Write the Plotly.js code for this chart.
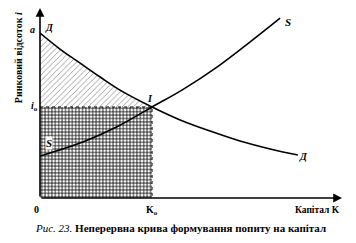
<!DOCTYPE html>
<html><head><meta charset="utf-8">
<script src="https://cdn.plot.ly/plotly-3.0.1.min.js"></script>
<style>html,body{margin:0;padding:0;background:#fff}#c{width:356px;height:243px}</style>
</head><body><div id="c"></div>
<script>
// Demand curve Д
const demandK = [0, 0.66, 1.32, 1.99, 2.65, 3.71, 4.64, 5.73, 6.62, 7.62, 8.54];
const demandI = [8.68, 7.84, 7.11, 6.37, 5.68, 4.79, 4.11, 3.47, 3.00, 2.58, 2.26];
// Supply curve S
const supplyK = [0, 1.42, 2.55, 3.71, 4.74, 5.86, 6.95, 7.95];
const supplyI = [2.21, 2.95, 3.75, 4.79, 5.72, 6.89, 8.21, 9.47];
// Equilibrium
const K0 = 3.71;
const i0 = 4.79;
const axisMax = 10;

const F = 'Liberation Serif, Times New Roman, serif';

// Triangle region (between demand and i0, from 0 to K0)
const triX = [], triY = [];
for (let j = 0; j < demandK.length; j++) {
  if (demandK[j] <= K0) { triX.push(demandK[j]); triY.push(demandI[j]); }
}
triX.push(0); triY.push(i0);

const traces = [
  { x: [0, K0, K0, 0, 0], y: [0, 0, i0, i0, 0], type: 'scatter', mode: 'none', fill: 'toself',
    fillcolor: 'white',
    fillpattern: { shape: '+', size: 3.4, solidity: 0.4, fgcolor: '#000', bgcolor: '#fff' },
    hoverinfo: 'skip' },
  { x: triX, y: triY, type: 'scatter', mode: 'none', fill: 'toself', fillcolor: 'white',
    fillpattern: { shape: '/', size: 4, solidity: 0.15, fgcolor: '#666', bgcolor: '#fff' },
    hoverinfo: 'skip' },
  { x: [0, K0, K0], y: [i0, i0, 0], type: 'scatter', mode: 'lines',
    line: { color: '#000', width: 1, dash: 'dot' }, hoverinfo: 'skip' },
  { x: demandK, y: demandI, type: 'scatter', mode: 'lines',
    line: { color: '#000', width: 1.6, shape: 'spline' }, hoverinfo: 'skip' },
  { x: supplyK, y: supplyI, type: 'scatter', mode: 'lines',
    line: { color: '#000', width: 1.6, shape: 'spline' }, hoverinfo: 'skip' }
];

function lab(x, y, text, opts) {
  return Object.assign({ x: x, y: y, xref: 'x', yref: 'y', text: text, showarrow: false,
    xanchor: 'center', yanchor: 'middle',
    font: { family: F, size: 10, color: '#000' } }, opts || {});
}
function plab(x, y, text, opts) {
  return Object.assign({ x: x, y: y, xref: 'paper', yref: 'paper', text: text, showarrow: false,
    xanchor: 'center', yanchor: 'middle',
    font: { family: F, size: 10, color: '#000' } }, opts || {});
}

const annotations = [
  // axes with arrows
  { x: axisMax, y: 0, ax: 0, ay: 0, xref: 'x', yref: 'y', axref: 'x', ayref: 'y', text: '',
    showarrow: true, arrowhead: 2, arrowsize: 1.1, arrowwidth: 1.6, arrowcolor: '#000' },
  { x: 0, y: axisMax, ax: 0, ay: 0, xref: 'x', yref: 'y', axref: 'x', ayref: 'y', text: '',
    showarrow: true, arrowhead: 2, arrowsize: 1.1, arrowwidth: 1.6, arrowcolor: '#000' },
  plab(-0.026, 0.889, '<b><i>a</i></b>'),
  lab(0.3, 8.95, '<b><i>Д</i></b>'),
  plab(-0.017, i0 / axisMax, '<b><i>i</i><sub>o</sub></b>'),
  lab(0.3, 2.9, '<b><i>S</i></b>', { bgcolor: '#fff', borderpad: 0,
    font: { family: F, size: 11, color: '#000' } }),
  lab(3.64, 5.25, '<b><i>I</i></b>'),
  lab(8.2, 9.28, '<b><i>S</i></b>', { font: { family: F, size: 11, color: '#000' } }),
  lab(8.74, 2.16, '<b><i>Д</i></b>'),
  plab(-0.013, -0.063, '<b>0</b>'),
  plab(K0 / axisMax, -0.068, '<b>K<sub>o</sub></b>'),
  plab(1.0, -0.063, '<b>Капітал K</b>', { xanchor: 'right', font: { family: F, size: 9.5, color: '#000' } }),
  plab(-0.069, 0.737, '<b>Ринковий відсоток <i>i</i></b>', { textangle: -90 }),
  plab(0.464, -0.158, '<i>Рис. 23.</i> <b>Неперервна крива формування попиту на капітал</b>',
    { font: { family: F, size: 11, color: '#000' } })
];

const layout = {
  width: 356, height: 243,
  margin: { l: 40, r: 14, t: 8, b: 45 },
  paper_bgcolor: '#fff', plot_bgcolor: '#fff',
  showlegend: false,
  xaxis: { range: [0, axisMax], showgrid: false, zeroline: false, showticklabels: false,
    ticks: '', showline: false, fixedrange: true },
  yaxis: { range: [0, axisMax], showgrid: false, zeroline: false, showticklabels: false,
    ticks: '', showline: false, fixedrange: true },
  annotations: annotations
};

Plotly.newPlot('c', traces, layout, { staticPlot: true, displayModeBar: false });
</script></body></html>
